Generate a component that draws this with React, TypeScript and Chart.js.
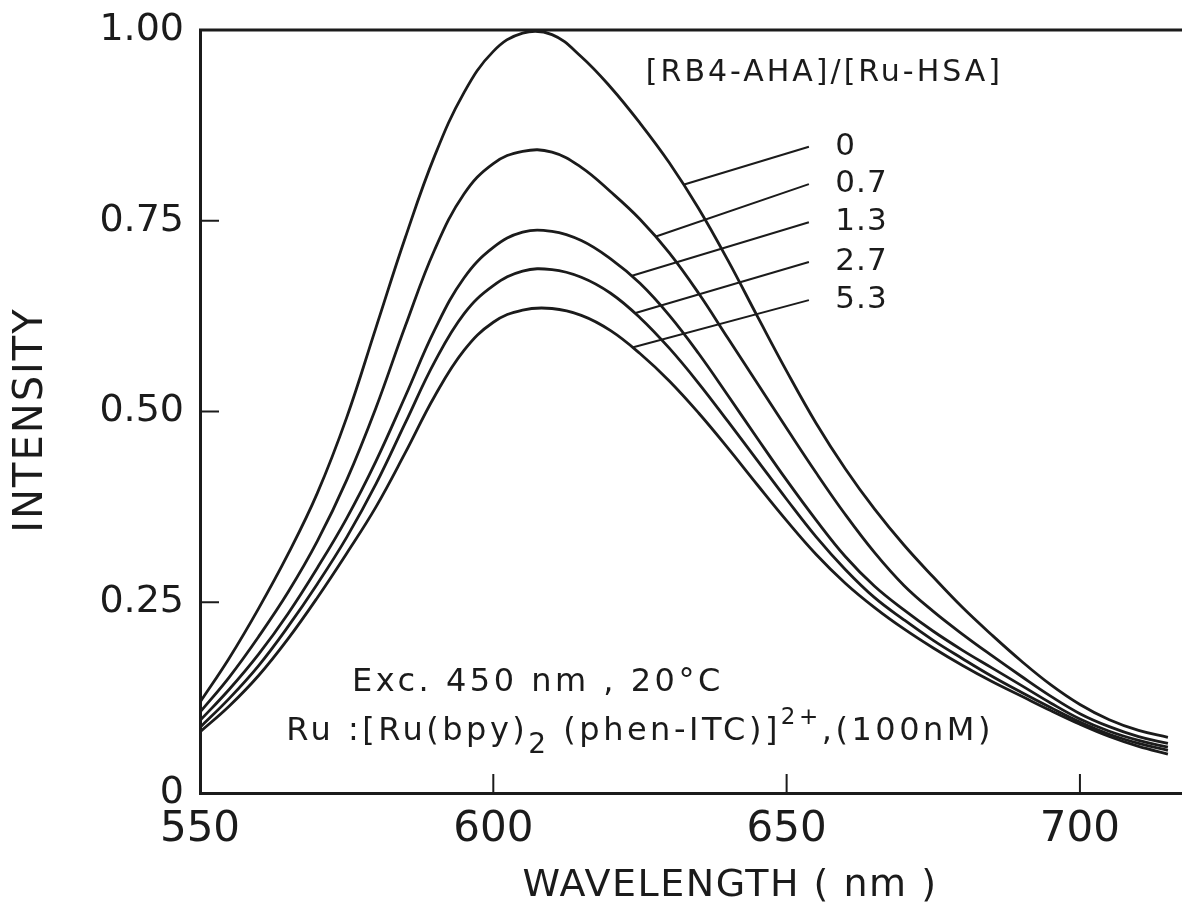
import React, { useEffect, useRef } from "react";
import { Chart, registerables } from "chart.js";

Chart.register(...registerables);

// ---- data ----
const wavelengths = [
  550, 555, 560, 565, 570, 575, 580, 585, 590, 595, 600, 605, 610, 615, 620, 625,
  630, 635, 640, 645, 650, 655, 660, 665, 670, 675, 680, 685, 690, 695, 700, 705,
  710, 715,
];

const ratioLabels = ["0", "0.7", "1.3", "2.7", "5.3"];

const intensityR0 = [
  0.119, 0.177, 0.242, 0.313, 0.393, 0.492, 0.61, 0.728, 0.835, 0.918, 0.972, 0.996,
  0.994, 0.965, 0.925, 0.878, 0.826, 0.766, 0.698, 0.625, 0.553, 0.485, 0.425, 0.372,
  0.325, 0.283, 0.243, 0.207, 0.173, 0.142, 0.116, 0.096, 0.082, 0.073,
];
const intensityR07 = [
  0.106, 0.152, 0.205, 0.263, 0.33, 0.41, 0.505, 0.612, 0.712, 0.785, 0.825, 0.841,
  0.84, 0.82, 0.788, 0.752, 0.708, 0.655, 0.596, 0.537, 0.478, 0.42, 0.365, 0.315,
  0.272, 0.238, 0.208, 0.18, 0.153, 0.127, 0.104, 0.087, 0.074, 0.065,
];
const intensityR13 = [
  0.095, 0.136, 0.182, 0.235, 0.295, 0.36, 0.435, 0.52, 0.607, 0.675, 0.715, 0.735,
  0.736, 0.724, 0.7, 0.668, 0.626, 0.576, 0.521, 0.465, 0.41, 0.358, 0.31, 0.271,
  0.24, 0.212, 0.187, 0.164, 0.141, 0.118, 0.097, 0.081, 0.069, 0.06,
];
const intensityR27 = [
  0.086, 0.124, 0.167, 0.218, 0.274, 0.335, 0.405, 0.485, 0.565, 0.628, 0.665, 0.684,
  0.686, 0.676, 0.655, 0.623, 0.583, 0.537, 0.487, 0.436, 0.385, 0.336, 0.293, 0.256,
  0.227, 0.2, 0.176, 0.153, 0.132, 0.112, 0.093, 0.077, 0.065, 0.056,
];
const intensityR53 = [
  0.08, 0.114, 0.154, 0.202, 0.256, 0.314, 0.375, 0.446, 0.52, 0.58, 0.617, 0.633,
  0.635, 0.626, 0.606, 0.576, 0.54, 0.498, 0.452, 0.404, 0.357, 0.313, 0.275, 0.243,
  0.215, 0.19, 0.167, 0.146, 0.127, 0.108, 0.09, 0.074, 0.061, 0.051,
];

const seriesValues = [intensityR0, intensityR07, intensityR13, intensityR27, intensityR53];

const xTicks = [550, 600, 650, 700];
const yTicks = [0, 0.25, 0.5, 0.75, 1.0];
const yTickLabels = ["0", "0.25", "0.50", "0.75", "1.00"];

// wavelength where each leader line touches its curve
const leaderTouch = [632.4, 627.6, 623.5, 624.1, 623.7];

// ---- layout / style (annotation anchors in data units) ----
const X_MIN = 550;
const X_MAX = 717.4;
const LEADER_END_X = 653.8;
const LABEL_X = 658.3;
const LABEL_Y = [0.847, 0.798, 0.748, 0.696, 0.646];
const HEADER_POS = { x: 626, y: 0.944 };
const EXC_POS = { x: 575.9, y: 0.144 };
const RU_POS = { x: 564.7, y: 0.081 };

const INK = "#1b1b1b";
const FONT = '"DejaVu Sans", "Liberation Sans", sans-serif';

function interp(xs: number[], ys: number[], v: number) {
  for (let i = 0; i < xs.length - 1; i++) {
    if (v >= xs[i] && v <= xs[i + 1]) {
      const t = (v - xs[i]) / (xs[i + 1] - xs[i]);
      return ys[i] + t * (ys[i + 1] - ys[i]);
    }
  }
  return ys[ys.length - 1];
}

const annotationPlugin = {
  id: "annotations",
  afterDraw(chart: any) {
    const { ctx, chartArea, scales } = chart;
    const xs = scales.x;
    const ys = scales.y;
    const px = (v: number) => xs.getPixelForValue(v);
    const py = (v: number) => ys.getPixelForValue(v);
    ctx.save();
    ctx.strokeStyle = INK;
    ctx.fillStyle = INK;
    ctx.lineCap = "butt";

    // top frame line
    ctx.lineWidth = 3;
    ctx.beginPath();
    ctx.moveTo(chartArea.left - 1, chartArea.top);
    ctx.lineTo(chartArea.right, chartArea.top);
    ctx.stroke();

    // inward ticks
    ctx.lineWidth = 2;
    yTicks.forEach((v) => {
      if (v <= 0 || v >= 1) return;
      ctx.beginPath();
      ctx.moveTo(chartArea.left, py(v));
      ctx.lineTo(chartArea.left + 19, py(v));
      ctx.stroke();
    });
    xTicks.forEach((v) => {
      if (v <= X_MIN) return;
      ctx.beginPath();
      ctx.moveTo(px(v), chartArea.bottom);
      ctx.lineTo(px(v), chartArea.bottom - 19);
      ctx.stroke();
    });

    // leader lines
    ctx.lineWidth = 2;
    seriesValues.forEach((vals, i) => {
      const lx = leaderTouch[i];
      const ly = interp(wavelengths, vals, lx);
      ctx.beginPath();
      ctx.moveTo(px(lx), py(ly));
      ctx.lineTo(px(LEADER_END_X), py(LABEL_Y[i]));
      ctx.stroke();
    });

    ctx.textBaseline = "middle";
    ctx.textAlign = "left";
    (ctx as any).letterSpacing = "1px";
    ctx.font = `31px ${FONT}`;
    ratioLabels.forEach((t, i) => {
      ctx.fillText(t, px(LABEL_X), py(LABEL_Y[i]));
    });

    (ctx as any).letterSpacing = "3px";
    ctx.font = `30px ${FONT}`;
    ctx.fillText("[RB4-AHA]/[Ru-HSA]", px(HEADER_POS.x), py(HEADER_POS.y));

    (ctx as any).letterSpacing = "3.5px";
    ctx.font = `32px ${FONT}`;
    ctx.fillText("Exc. 450 nm , 20°C", px(EXC_POS.x), py(EXC_POS.y));

    const parts = [
      { t: "Ru :[Ru(bpy)", size: 32, dy: 0 },
      { t: "2", size: 28, dy: 15 },
      { t: " (phen-ITC)]", size: 32, dy: 0 },
      { t: "2+", size: 23, dy: -13 },
      { t: ",(100nM)", size: 32, dy: 0 },
    ];
    let cx = px(RU_POS.x);
    const cy = py(RU_POS.y);
    parts.forEach((p) => {
      ctx.font = `${p.size}px ${FONT}`;
      ctx.fillText(p.t, cx, cy + p.dy);
      cx += ctx.measureText(p.t).width;
    });

    // axis titles
    (ctx as any).letterSpacing = "1.5px";
    ctx.font = `38px ${FONT}`;
    ctx.textAlign = "center";
    ctx.fillText("WAVELENGTH ( nm )", chartArea.left + 530, 886);
    (ctx as any).letterSpacing = "2px";
    ctx.font = `40px ${FONT}`;
    ctx.save();
    ctx.translate(32, 420);
    ctx.rotate(-Math.PI / 2);
    ctx.fillText("INTENSITY", 0, 0);
    ctx.restore();

    ctx.restore();
  },
};

export default function App() {
  const canvasRef = useRef<HTMLCanvasElement | null>(null);

  useEffect(() => {
    document.body.style.margin = "0";
    const canvas = canvasRef.current;
    if (!canvas) return;
    const datasets = seriesValues.map((vals, i) => ({
      label: ratioLabels[i],
      data: wavelengths.map((w, j) => ({ x: w, y: vals[j] })),
      borderColor: INK,
      borderWidth: 2.8,
      pointRadius: 0,
      fill: false,
      tension: 0.4,
    }));

    const chart = new Chart(canvas, {
      type: "line",
      data: { datasets },
      plugins: [annotationPlugin],
      options: {
        responsive: false,
        animation: false,
        layout: { padding: { top: 30, right: 0, left: 0, bottom: 0 } },
        plugins: {
          legend: { display: false },
          tooltip: { enabled: false },
        },
        scales: {
          x: {
            type: "linear",
            min: X_MIN,
            max: X_MAX,
            afterBuildTicks: (scale: any) => {
              scale.ticks = xTicks.map((v) => ({ value: v }));
            },
            afterFit: (scale: any) => {
              scale.height = 128;
              scale.paddingLeft = 0;
              scale.paddingRight = 0;
            },
            grid: { display: false, drawTicks: false },
            border: { display: true, color: INK, width: 3 },
            ticks: {
              padding: 12,
              color: INK,
              font: { family: FONT, size: 42 },
              callback: (v: any) => String(v),
            },
          },
          y: {
            type: "linear",
            min: 0,
            max: 1,
            afterBuildTicks: (scale: any) => {
              scale.ticks = yTicks.map((v) => ({ value: v }));
            },
            afterFit: (scale: any) => {
              scale.width = 200;
              scale.paddingTop = 0;
              scale.paddingBottom = 0;
            },
            grid: { display: false, drawTicks: false },
            border: { display: true, color: INK, width: 3 },
            ticks: {
              padding: 16,
              color: INK,
              font: { family: FONT, size: 38 },
              callback: (v: any) => {
                const idx = yTicks.indexOf(Number(v));
                return idx >= 0 ? yTickLabels[idx] : "";
              },
            },
          },
        },
      },
    });
    return () => chart.destroy();
  }, []);

  return (
    <div style={{ position: "absolute", left: 0, top: 0, width: 1182, height: 921, background: "#fff" }}>
      <canvas ref={canvasRef} width={1182} height={921} style={{ display: "block" }} />
    </div>
  );
}
